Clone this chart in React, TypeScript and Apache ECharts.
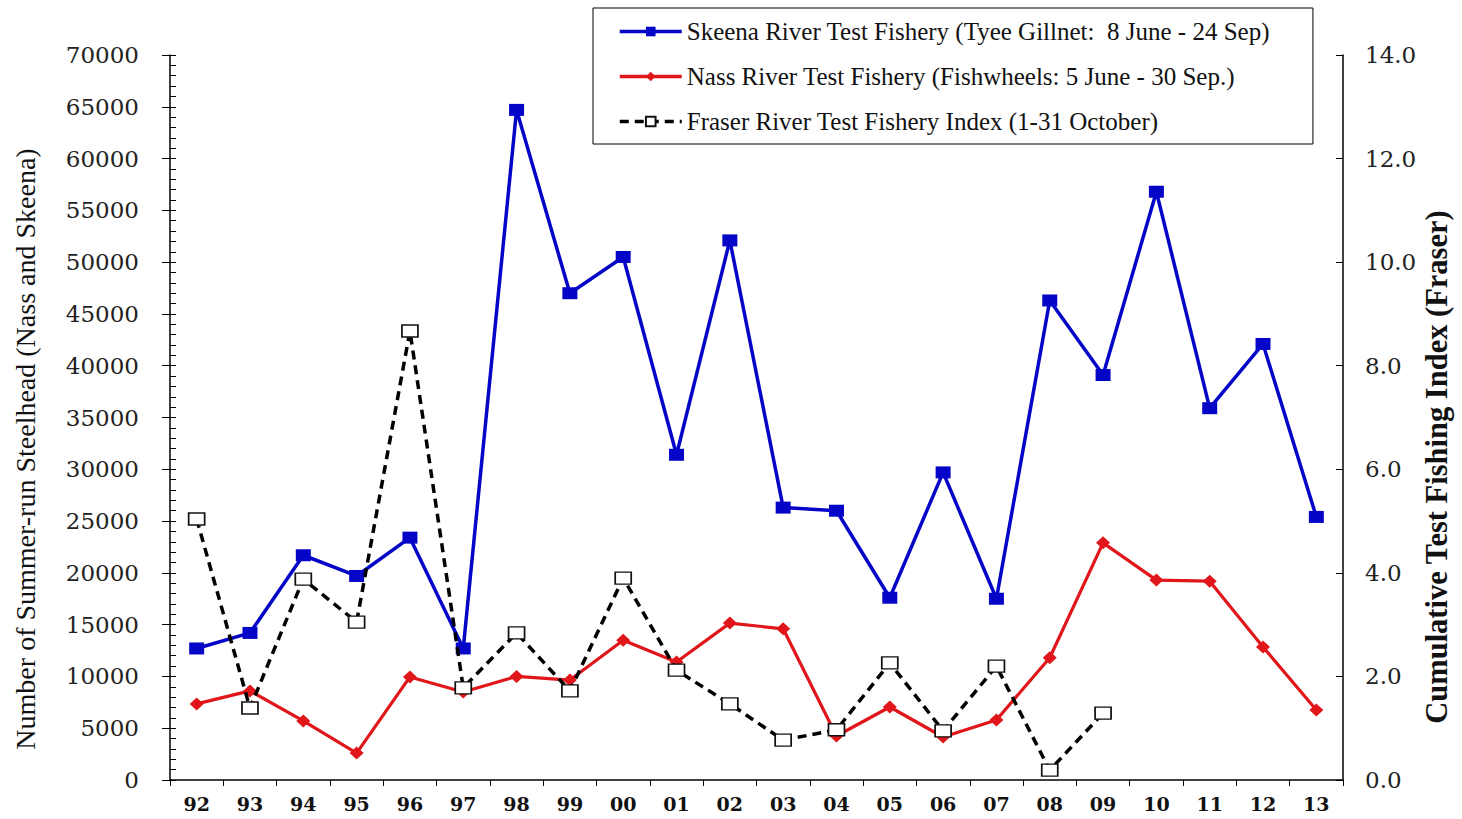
import React, { useEffect, useRef } from "react";
import * as echarts from "echarts";

const years = ["92","93","94","95","96","97","98","99","00","01","02","03","04","05","06","07","08","09","10","11","12","13"];
const skeena = [12700,14200,21700,19700,23400,12700,64700,47000,50500,31400,52100,26300,26000,17600,29700,17500,46300,39100,56800,35900,42100,25400];
const nass = [7350,8600,5700,2600,9950,8500,10000,9650,13500,11400,15150,14600,4250,7050,4150,5800,11800,22900,19300,19200,12850,6750];
const fraser: (number | null)[] = [5.04,1.39,3.88,3.05,8.67,1.78,2.84,1.72,3.90,2.12,1.47,0.77,0.97,2.26,0.95,2.20,0.19,1.29,null,null,null,null];

const seriesNames = [
  "Skeena River Test Fishery (Tyee Gillnet:  8 June - 24 Sep)",
  "Nass River Test Fishery (Fishwheels: 5 June - 30 Sep.)",
  "Fraser River Test Fishery Index (1-31 October)",
];
const leftTitle = "Number of Summer-run Steelhead (Nass and Skeena)";
const rightTitle = "Cumulative Test Fishing Index (Fraser)";

export default function App() {
  const ref = useRef<HTMLDivElement>(null);
  useEffect(() => {
    document.body.style.margin = "0";
    const chart = echarts.init(ref.current!, null, { renderer: "svg" });
    const labelFont = { fontFamily: "DejaVu Serif", fontSize: 23, color: "#222" };
    chart.setOption({
      animation: false,
      backgroundColor: "#fff",
      grid: { left: 170, right: 119, top: 55, bottom: 39, containLabel: false },
      legend: {
        orient: "vertical",
        left: 593,
        top: 8,
        padding: [11, 43, 10, 25],
        itemGap: 20,
        itemWidth: 62,
        itemHeight: 12,
        borderColor: "#000",
        borderWidth: 1,
        backgroundColor: "#fff",
        lineStyle: { width: 3.5 },
        textStyle: { fontFamily: "Liberation Serif", fontSize: 25, color: "#111" },
        data: seriesNames,
      },
      graphic: [
        {
          type: "text",
          x: 25,
          y: 449,
          rotation: Math.PI / 2,
          style: {
            text: leftTitle,
            fontFamily: "Liberation Serif",
            fontSize: 28,
            fill: "#111",
            align: "center",
            verticalAlign: "middle",
          },
        },
        {
          type: "text",
          x: 1437,
          y: 467,
          rotation: Math.PI / 2,
          style: {
            text: rightTitle,
            fontFamily: "Liberation Serif",
            fontWeight: "bold",
            fontSize: 30.5,
            fill: "#111",
            align: "center",
            verticalAlign: "middle",
          },
        },
      ],
      xAxis: {
        type: "category",
        data: years,
        boundaryGap: true,
        axisLine: { lineStyle: { color: "#000", width: 1.5 } },
        axisTick: { show: true, length: 6, lineStyle: { color: "#000" } },
        axisLabel: { fontFamily: "DejaVu Serif", fontWeight: "bold", fontSize: 19, color: "#111", margin: 14 },
      },
      yAxis: [
        {
          type: "value",
          position: "left",
          min: 0,
          max: 70000,
          interval: 5000,
          splitLine: { show: false },
          axisLine: { show: true, lineStyle: { color: "#000", width: 1.5 } },
          axisTick: { show: true, length: 8, lineStyle: { color: "#000" } },
          axisLabel: { ...labelFont, margin: 31, formatter: (v: number) => String(v) },
        },
        {
          type: "value",
          position: "left",
          min: 0,
          max: 70000,
          interval: 5000,
          splitLine: { show: false },
          axisLine: { show: false },
          axisLabel: { show: false },
          axisTick: { show: true, inside: true, length: 6, lineStyle: { color: "#000" } },
          minorTick: { show: true, splitNumber: 5, length: 6, lineStyle: { color: "#000" } },
        },
        {
          type: "value",
          position: "right",
          min: 0,
          max: 14,
          interval: 2,
          splitLine: { show: false },
          axisLine: { show: true, lineStyle: { color: "#000", width: 1.5 } },
          axisTick: { show: true, inside: true, length: 7, lineStyle: { color: "#000" } },
          axisLabel: { ...labelFont, margin: 22, formatter: (v: number) => v.toFixed(1) },
        },
      ],
      series: [
        {
          name: seriesNames[0],
          type: "line",
          yAxisIndex: 0,
          data: skeena,
          symbol: "rect",
          symbolSize: [15, 12],
          lineStyle: { color: "#0505C8", width: 3.5 },
          itemStyle: { color: "#0505C8" },
          z: 3,
        },
        {
          name: seriesNames[1],
          type: "line",
          yAxisIndex: 0,
          data: nass,
          symbol: "diamond",
          symbolSize: [14, 13],
          lineStyle: { color: "#E0161A", width: 3.2 },
          itemStyle: { color: "#E0161A" },
          z: 2,
        },
        {
          name: seriesNames[2],
          type: "line",
          yAxisIndex: 2,
          data: fraser,
          symbol: "rect",
          symbolSize: [16, 12],
          lineStyle: { color: "#000", width: 3.5, type: [9, 6] },
          itemStyle: { color: "#fff", borderColor: "#111", borderWidth: 1.5 },
          z: 4,
        },
      ],
    });
    return () => chart.dispose();
  }, []);
  return <div ref={ref} style={{ width: 1462, height: 819, position: "absolute", left: 0, top: 0 }} />;
}
